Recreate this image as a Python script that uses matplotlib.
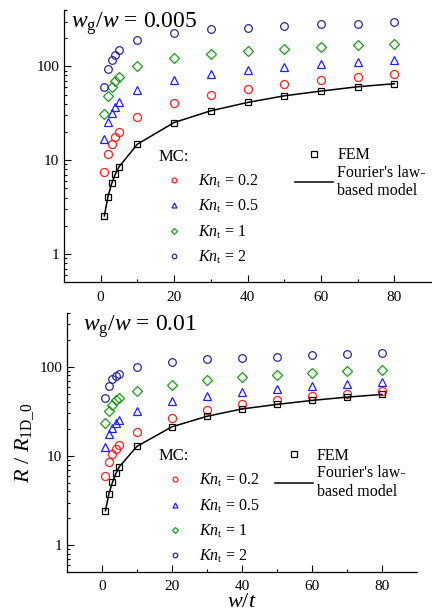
#!/usr/bin/env python3
import matplotlib
matplotlib.use('Agg')
import matplotlib.pyplot as plt
from matplotlib.lines import Line2D

plt.rcParams['font.family'] = ['Liberation Serif', 'DejaVu Serif']
plt.rcParams['mathtext.fontset'] = 'custom'
plt.rcParams['mathtext.rm'] = 'Liberation Serif'
plt.rcParams['mathtext.it'] = 'Liberation Serif:italic'
plt.rcParams['mathtext.bf'] = 'Liberation Serif:bold'

# w/t values
wt = [1, 2, 3, 4, 5, 10, 20, 30, 40, 50, 60, 70, 80]

# w_g/w = 0.005
fem_a = [2.55, 4.1, 5.65, 7.1, 8.5, 14.8, 25.2, 33.6, 41.2, 48.5, 54.5, 60.6, 65.3]
kn02_a = [7.5, 11.7, 14.9, 17.7, 20.0, 28.7, 40.2, 49.3, 57.2, 64.2, 70.8, 76.2, 82.0]
kn05_a = [16.8, 25.4, 32.2, 37.0, 41.6, 55.8, 71.5, 82.8, 91.4, 99.0, 105, 111, 118]
kn1_a = [30.9, 47.8, 60.1, 69.7, 76.3, 100, 122, 137, 145, 154, 161, 168, 175]
kn2_a = [60.6, 93, 116, 133, 150, 191, 227, 249, 259, 272, 281, 286, 296]

# w_g/w = 0.01
fem_b = [2.43, 3.78, 5.06, 6.37, 7.6, 12.8, 21.2, 27.8, 33.6, 37.8, 41.9, 45.6, 48.9]
kn02_b = [6.0, 8.5, 10.4, 12.1, 13.4, 18.6, 26.7, 33.0, 38.1, 42.6, 46.4, 50.1, 53.2]
kn05_b = [12.7, 17.6, 20.6, 23.1, 25.5, 31.9, 40.8, 47.2, 52.7, 57.0, 61.0, 64.7, 68.1]
kn1_b = [23.1, 31.9, 37.5, 41.9, 44.9, 54.1, 63.1, 71.1, 76.1, 80.8, 84.4, 88.7, 91.8]
kn2_b = [44.5, 60.4, 72.3, 78.8, 83.6, 98.3, 112, 120.6, 126, 130, 134.8, 139, 143]

kn_labels = ['0.2', '0.5', '1', '2']
kn_colors = ['#ff2020', '#2020ff', '#1a9a1a', '#28289a']
kn_markers = ['o', '^', 'D', 'o']
kn_sizes = [5.8, 6.0, 5.0, 5.5]


def draw_panel(ax, fem, kns, title, title_x, mc_anchor, fem_anchor):
    for vals, c, m, s in zip(kns, kn_colors, kn_markers, kn_sizes):
        ax.plot(wt, vals, m, ms=s, mfc='none', mec=c, mew=0.9, ls='none')
    ax.plot(wt, fem, '-', color='black', lw=1.1)
    ax.plot(wt, fem, 's', ms=4.8, mfc='none', mec='black', mew=0.9, ls='none')

    ax.set_yscale('log')
    ax.set_ylim(0.5, 400)
    ax.set_xlim(-10, 90)
    ax.set_xticks([0, 20, 40, 60, 80])
    ax.set_xticks([10, 30, 50, 70], minor=True)
    ax.set_yticks([1, 10, 100])
    ax.set_yticklabels(['1', '10', '100'])
    ax.tick_params(which='both', direction='in', labelsize=11, width=0.8)
    ax.tick_params(which='major', length=5)
    ax.tick_params(which='minor', length=2.5)
    ax.tick_params(axis='x', pad=6)
    for sp in ['top', 'right']:
        ax.spines[sp].set_visible(False)
    for sp in ['left', 'bottom']:
        ax.spines[sp].set_linewidth(0.9)

    ax.text(title_x, 1.0, title, transform=ax.transAxes, fontsize=17,
            ha='left', va='top')

    mc_handles = [Line2D([], [], marker=m, ms=s * 0.6, mfc='none', mec=c,
                         mew=0.9, ls='none')
                  for c, m, s in zip(kn_colors, kn_markers, kn_sizes)]
    mc_names = [r'$Kn_\mathrm{t}$ = ' + k for k in kn_labels]
    leg1 = ax.legend(mc_handles, mc_names, title='MC:', loc='upper left',
                     bbox_to_anchor=mc_anchor, frameon=False, fontsize=11.5,
                     title_fontsize=12, labelspacing=0.5, handlelength=2,
                     handletextpad=0.5, borderpad=0, alignment='left')
    ax.add_artist(leg1)

    fem_handles = [Line2D([], [], marker='s', ms=3.8, mfc='none', mec='black',
                          mew=0.9, ls='none'),
                   Line2D([], [], color='black', lw=1.1)]
    ax.legend(fem_handles, ['FEM', "Fourier's law-\nbased model"],
              loc='upper left', bbox_to_anchor=fem_anchor, frameon=False,
              fontsize=11.5, labelspacing=0.1, handlelength=2.4,
              handletextpad=0.25, borderpad=0)


fig = plt.figure(figsize=(4.32, 6.15), dpi=100)
ax1 = fig.add_axes([0.148, 0.541, 0.850, 0.443])
ax2 = fig.add_axes([0.155, 0.070, 0.810, 0.421])

draw_panel(ax1, fem_a, [kn02_a, kn05_a, kn1_a, kn2_a],
           r'$w_\mathrm{g}/w$ = 0.005', 0.02, (0.235, 0.52), (0.607, 0.525))
draw_panel(ax2, fem_b, [kn02_b, kn05_b, kn1_b, kn2_b],
           r'$w_\mathrm{g}/w$ = 0.01', 0.045, (0.24, 0.51), (0.571, 0.51))

ax2.set_xlabel(r'$w$/$t$', fontsize=16, labelpad=0)
ax2.set_ylabel(r'$R$ / $R_\mathrm{1D\_0}$', fontsize=16, labelpad=2)

fig.savefig('out.png', dpi=100)
